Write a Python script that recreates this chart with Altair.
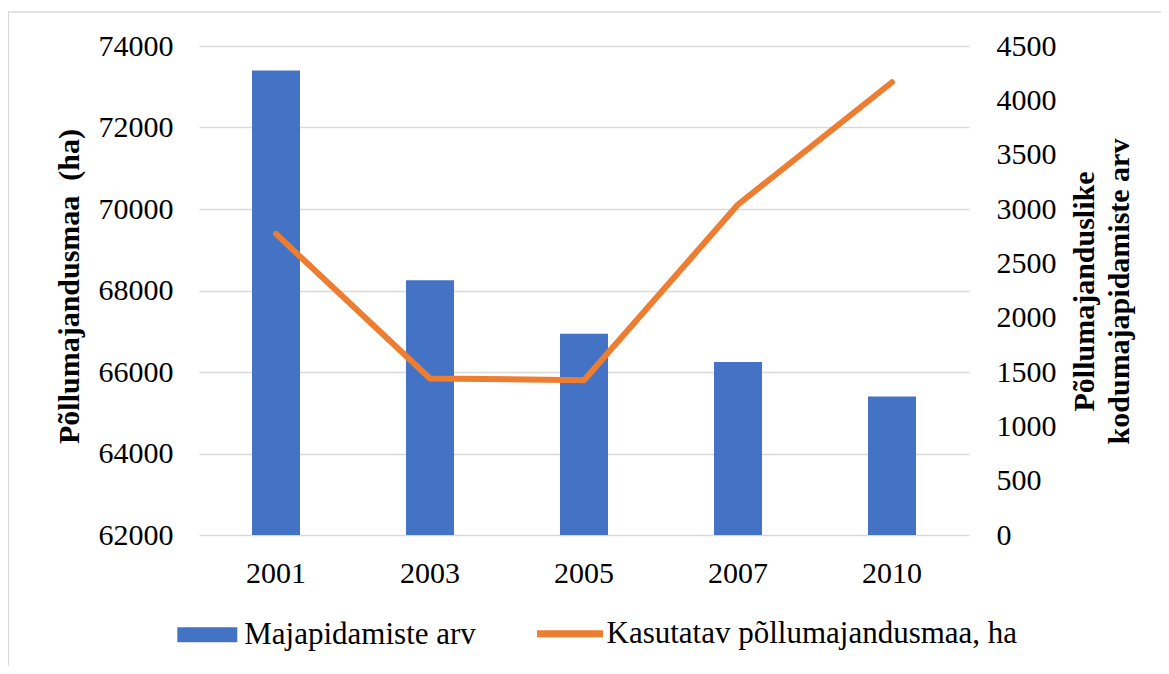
import altair as alt
import pandas as pd

# ---- data ----
years = ["2001", "2003", "2005", "2007", "2010"]
households = [4275, 2345, 1852, 1591, 1275]          # bars, right axis
land_ha = [69390, 65840, 65800, 70110, 73110]        # line, left axis
left_ticks = [62000, 64000, 66000, 68000, 70000, 72000, 74000]
right_ticks = [0, 500, 1000, 1500, 2000, 2500, 3000, 3500, 4000, 4500]

bar_name = "Majapidamiste arv"
line_name = "Kasutatav põllumajandusmaa, ha"
left_title = "Põllumajandusmaa\u00a0 (ha)"
right_title = ["Põllumajanduslike", "kodumajapidamiste arv"]

BLUE = "#4472C4"
ORANGE = "#ED7D31"
FONT = "Liberation Serif"
GRID = "#d9d9d9"

df_bar = pd.DataFrame({"year": years, "value": households, "series": bar_name})
df_line = pd.DataFrame({"year": years, "value": land_ha, "series": line_name})
df_frame = pd.DataFrame({"k": [0]})

x_enc = alt.X(
    "year:N",
    sort=years,
    scale=alt.Scale(paddingInner=0, paddingOuter=0),
    axis=alt.Axis(
        title=None, labelAngle=0, domain=False, ticks=False, tickSize=0,
        labelPadding=23, labelFontSize=30, labelFont=FONT, labelColor="black",
        grid=False,
    ),
)

frame = alt.Chart(df_frame).mark_rect(
    fill="white", fillOpacity=0, stroke=GRID, strokeWidth=1.5
).encode(
    x=alt.value(-190.7), x2=alt.value(1100), y=alt.value(-34), y2=alt.value(700)
)

bars = alt.Chart(df_bar).mark_bar(size=48).encode(
    x=x_enc,
    y=alt.Y(
        "value:Q",
        scale=alt.Scale(domain=[0, 4500], nice=False),
        axis=alt.Axis(
            orient="right", values=right_ticks, grid=False, domain=False,
            ticks=False, tickSize=0, labelPadding=27, labelFontSize=30,
            labelFont=FONT, labelColor="black", format="d",
            title=right_title, titleFont=FONT, titleFontSize=30,
            titleFontWeight="bold", titleColor="black", titleAngle=270,
            titleAlign="center", titleBaseline="middle", titleLineHeight=35,
            titleX=115.5, titleY=245,
        ),
    ),
    fill=alt.Fill(
        "series:N",
        scale=alt.Scale(domain=[bar_name], range=[BLUE]),
        legend=alt.Legend(
            title=None, orient="none", legendX=-21.7, legendY=558.7,
            symbolType="M-1,-0.25H1V0.25H-1Z", symbolSize=3600,
            symbolStrokeWidth=0, labelFont=FONT, labelFontSize=31,
            labelColor="black", labelOffset=7, labelLimit=1000, padding=0,
        ),
    ),
)

line = alt.Chart(df_line).mark_line(
    strokeWidth=6, strokeCap="round", strokeJoin="round"
).encode(
    x=x_enc,
    y=alt.Y(
        "value:Q",
        scale=alt.Scale(domain=[62000, 74000], nice=False, zero=False),
        axis=alt.Axis(
            orient="left", values=left_ticks, grid=True, gridColor=GRID,
            gridWidth=1.5, domain=False, ticks=False, tickSize=0,
            labelPadding=26, labelFontSize=30, labelFont=FONT,
            labelColor="black", format="d",
            title=left_title, titleFont=FONT, titleFontSize=30,
            titleFontWeight="bold", titleColor="black", titleAngle=270,
            titleAlign="center", titleBaseline="middle",
            titleX=-130, titleY=240,
        ),
    ),
    stroke=alt.Stroke(
        "series:N",
        scale=alt.Scale(domain=[line_name], range=[ORANGE]),
        legend=alt.Legend(
            title=None, orient="none", legendX=334.5, legendY=551.2,
            symbolType="stroke", symbolSize=4356, symbolStrokeWidth=7,
            labelFont=FONT, labelFontSize=31, labelColor="black",
            labelOffset=0, labelLimit=1000, padding=0,
        ),
    ),
)

chart = (
    alt.layer(frame, bars, line)
    .resolve_scale(y="independent")
    .properties(
        width=770,
        height=489,
        autosize=alt.AutoSizeParams(type="none"),
        padding={"left": 191, "top": 38, "right": 192, "bottom": 131},
        background="white",
    )
    .configure_view(strokeWidth=0)
)

chart.save("out.html", embed_options={"renderer": "svg", "actions": False})
